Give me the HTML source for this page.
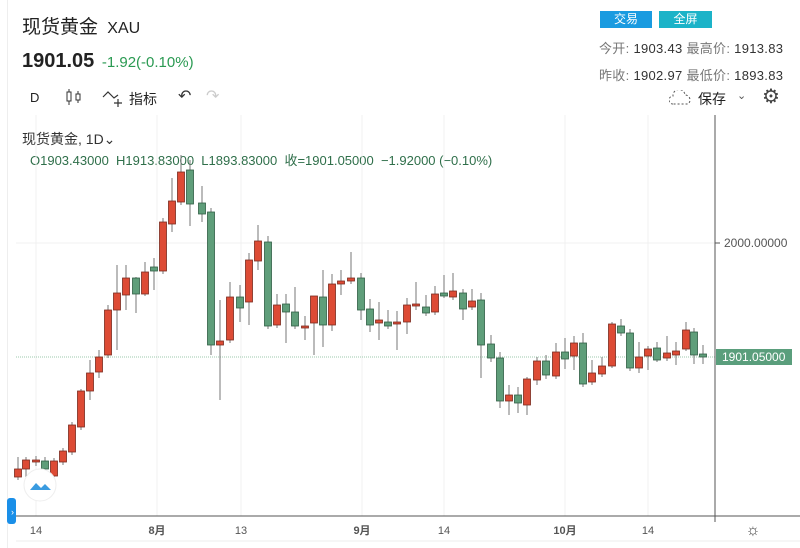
<!DOCTYPE html>
<html><head><meta charset="utf-8"><style>
body{margin:0;background:#fff;width:800px;height:548px;overflow:hidden;font-family:"Liberation Sans","Noto Sans CJK SC",sans-serif;position:relative}
.a{position:absolute;white-space:nowrap}
</style></head><body>
<div class="a" style="left:7px;top:0;width:1px;height:548px;background:#eee"></div>
<div class="a" style="left:22px;top:12px;font-size:19px;color:#222">现货黄金 <span style="font-size:16px;margin-left:4px">XAU</span></div>
<div class="a" style="left:22px;top:50px;font-size:20px;font-weight:bold;color:#222">1901.05 <span style="font-size:15px;font-weight:normal;color:#2a9a52;margin-left:2px">-1.92(-0.10%)</span></div>
<div class="a" style="left:600px;top:11px;width:52px;height:17px;background:#1a9be0;color:#fff;font-size:12px;text-align:center;line-height:17px">交易</div>
<div class="a" style="left:659px;top:11px;width:53px;height:17px;background:#1cb3c8;color:#fff;font-size:12px;text-align:center;line-height:17px">全屏</div>
<div class="a" style="left:599px;top:38px;font-size:13px;color:#777;letter-spacing:0.3px">今开: <span style="color:#333">1903.43</span> 最高价: <span style="color:#333">1913.83</span></div>
<div class="a" style="left:599px;top:65px;font-size:13px;color:#777;letter-spacing:0.3px">昨收: <span style="color:#333">1902.97</span> 最低价: <span style="color:#333">1893.83</span></div>
<div class="a" style="left:30px;top:90px;font-size:13px;color:#222">D</div>
<svg class="a" style="left:64px;top:88px" width="20" height="18"><path d="M5 1v16M14 3v12" stroke="#333"/><rect x="3" y="4" width="4" height="9" fill="#fff" stroke="#333"/><rect x="12" y="6" width="4" height="6" fill="#fff" stroke="#333"/></svg>
<svg class="a" style="left:102px;top:88px" width="26" height="20"><path d="M1 9l5-5 6 6 4-3M16 11v8M12 15h8" stroke="#333" fill="none" stroke-width="1.2"/></svg>
<div class="a" style="left:129px;top:89px;font-size:14px;color:#222">指标</div>
<div class="a" style="left:178px;top:86px;font-size:16px;color:#333">↶</div>
<div class="a" style="left:206px;top:86px;font-size:16px;color:#ccc">↷</div>
<svg class="a" style="left:669px;top:90px" width="24" height="16"><path d="M4 14a4 4 0 0 1 0-8a6 6 0 0 1 12-1a5 5 0 0 1 3 9z" fill="none" stroke="#555" stroke-dasharray="2 2"/></svg>
<div class="a" style="left:698px;top:89px;font-size:14px;color:#222">保存</div>
<div class="a" style="left:737px;top:89px;font-size:11px;color:#555">⌄</div>
<div class="a" style="left:762px;top:84px;font-size:20px;color:#444">⚙</div>
<div class="a" style="left:22px;top:129px;font-size:14px;color:#333">现货黄金, 1D⌄</div>
<div class="a" style="left:30px;top:150px;font-size:13px;color:#2f6f4a">O1903.43000&nbsp;&nbsp;H1913.83000&nbsp;&nbsp;L1893.83000&nbsp;&nbsp;收=1901.05000&nbsp;&nbsp;−1.92000 (−0.10%)</div>
<svg class="a" style="left:0;top:0" width="800" height="548" id="c">
<g stroke="#f0f0f0"><line x1="36" y1="115" x2="36" y2="516"/><line x1="157" y1="115" x2="157" y2="516"/><line x1="241" y1="115" x2="241" y2="516"/><line x1="362" y1="115" x2="362" y2="516"/><line x1="444" y1="115" x2="444" y2="516"/><line x1="565" y1="115" x2="565" y2="516"/><line x1="648" y1="115" x2="648" y2="516"/>
<line x1="16" y1="243" x2="715" y2="243"/></g>
<line x1="16" y1="357" x2="715" y2="357" stroke="#9cc9ad" stroke-dasharray="1 1"/>
<g id="k"></g>
<line x1="715" y1="115" x2="715" y2="522" stroke="#555"/>
<line x1="16" y1="516" x2="800" y2="516" stroke="#555"/>
<line x1="16" y1="541" x2="800" y2="541" stroke="#eee"/>
<line x1="715" y1="243" x2="720" y2="243" stroke="#555"/>
<text x="724" y="247" font-size="12" fill="#555" font-family="Liberation Sans">2000.00000</text>
<rect x="716" y="349" width="76" height="16" fill="#5a9e7c"/>
<text x="722" y="361" font-size="12" fill="#fff" font-family="Liberation Sans">1901.05000</text>
<g font-size="11" fill="#555" font-family="Liberation Sans,Noto Sans CJK SC,sans-serif" text-anchor="middle">
<text x="36" y="534">14</text><text x="157" y="534" font-weight="bold">8月</text><text x="241" y="534">13</text><text x="362" y="534" font-weight="bold">9月</text><text x="444" y="534">14</text><text x="565" y="534" font-weight="bold">10月</text><text x="648" y="534">14</text></g>
<text x="753" y="535" font-size="16" fill="#444" text-anchor="middle">☼</text>
<circle cx="40" cy="485" r="16" fill="#fff" stroke="#eee"/>
<path d="M30 490l6-7 5 5 4-4 6 6z" fill="#3a9be0"/>
<rect x="7" y="498" width="9" height="26" rx="3" fill="#1a8fe8"/>
<text x="11" y="515" font-size="9" fill="#fff">›</text>
</svg>
<script>
var d=[[18,469,477,1,457,480],[26,460,469,1,457,477],[36,460,462,1,456,466],[45,461,469,0,457,472],[54,461,476,1,458,479],[63,451,462,1,448,465],[72,425,452,1,422,455],[81,391,427,1,389,430],[90,373,391,1,360,400],[99,357,372,1,350,378],[108,310,355,1,305,358],[117,293,310,1,265,350],[126,278,295,1,265,310],[136,278,294,0,277,313],[145,272,294,1,262,296],[154,267,271,0,258,290],[163,222,271,1,218,274],[172,201,224,1,178,232],[181,172,202,1,155,205],[190,170,204,0,160,226],[202,203,214,0,186,222],[211,212,345,0,208,355],[220,341,345,1,300,400],[230,297,340,1,282,343],[240,297,308,0,285,322],[249,260,302,1,253,325],[258,241,261,1,225,270],[268,242,326,0,236,329],[277,305,325,1,294,328],[286,304,312,0,294,343],[295,312,326,0,287,329],[305,326,328,1,316,340],[314,296,323,1,296,355],[323,297,325,0,270,347],[332,284,325,1,274,331],[341,281,284,1,270,295],[351,278,281,1,252,284],[361,278,310,0,273,320],[370,309,325,0,299,332],[379,320,323,1,302,340],[388,322,326,0,310,329],[397,322,324,1,311,350],[407,305,322,1,298,334],[416,304,306,1,282,310],[426,307,313,0,295,316],[435,294,312,1,286,315],[444,293,296,0,275,298],[453,291,297,1,273,300],[463,293,309,0,289,320],[472,301,307,1,289,310],[481,300,345,0,293,378],[491,344,358,0,335,362],[500,358,401,0,352,408],[509,395,401,1,385,415],[518,395,403,0,387,413],[527,379,405,1,377,415],[537,361,380,1,357,385],[546,361,375,0,355,379],[556,352,376,1,343,379],[565,352,359,0,338,369],[574,343,356,1,336,370],[583,343,384,0,333,387],[592,373,382,1,360,385],[602,366,374,1,357,377],[612,324,366,1,322,368],[621,326,333,0,319,336],[630,333,368,0,329,371],[639,357,368,1,342,373],[648,349,356,1,346,370],[657,348,360,0,342,362],[667,353,358,1,336,361],[676,351,355,1,342,365],[686,330,349,1,322,351],[694,332,355,0,328,364],[703,354,357,0,345,364]];
var s='';d.forEach(function(c){var f=c[3]?'#dd4b35':'#5f9e7a',b=c[3]?'#7a2a1e':'#2f5e44';
s+='<line x1="'+c[0]+'" y1="'+c[4]+'" x2="'+c[0]+'" y2="'+c[5]+'" stroke="#777"/>';
s+='<rect x="'+(c[0]-3.5)+'" y="'+c[1]+'" width="7" height="'+Math.max(2,c[2]-c[1])+'" fill="'+f+'" stroke="'+b+'" stroke-width="0.8"/>';});
document.getElementById('k').innerHTML=s;
</script>
</body></html>
